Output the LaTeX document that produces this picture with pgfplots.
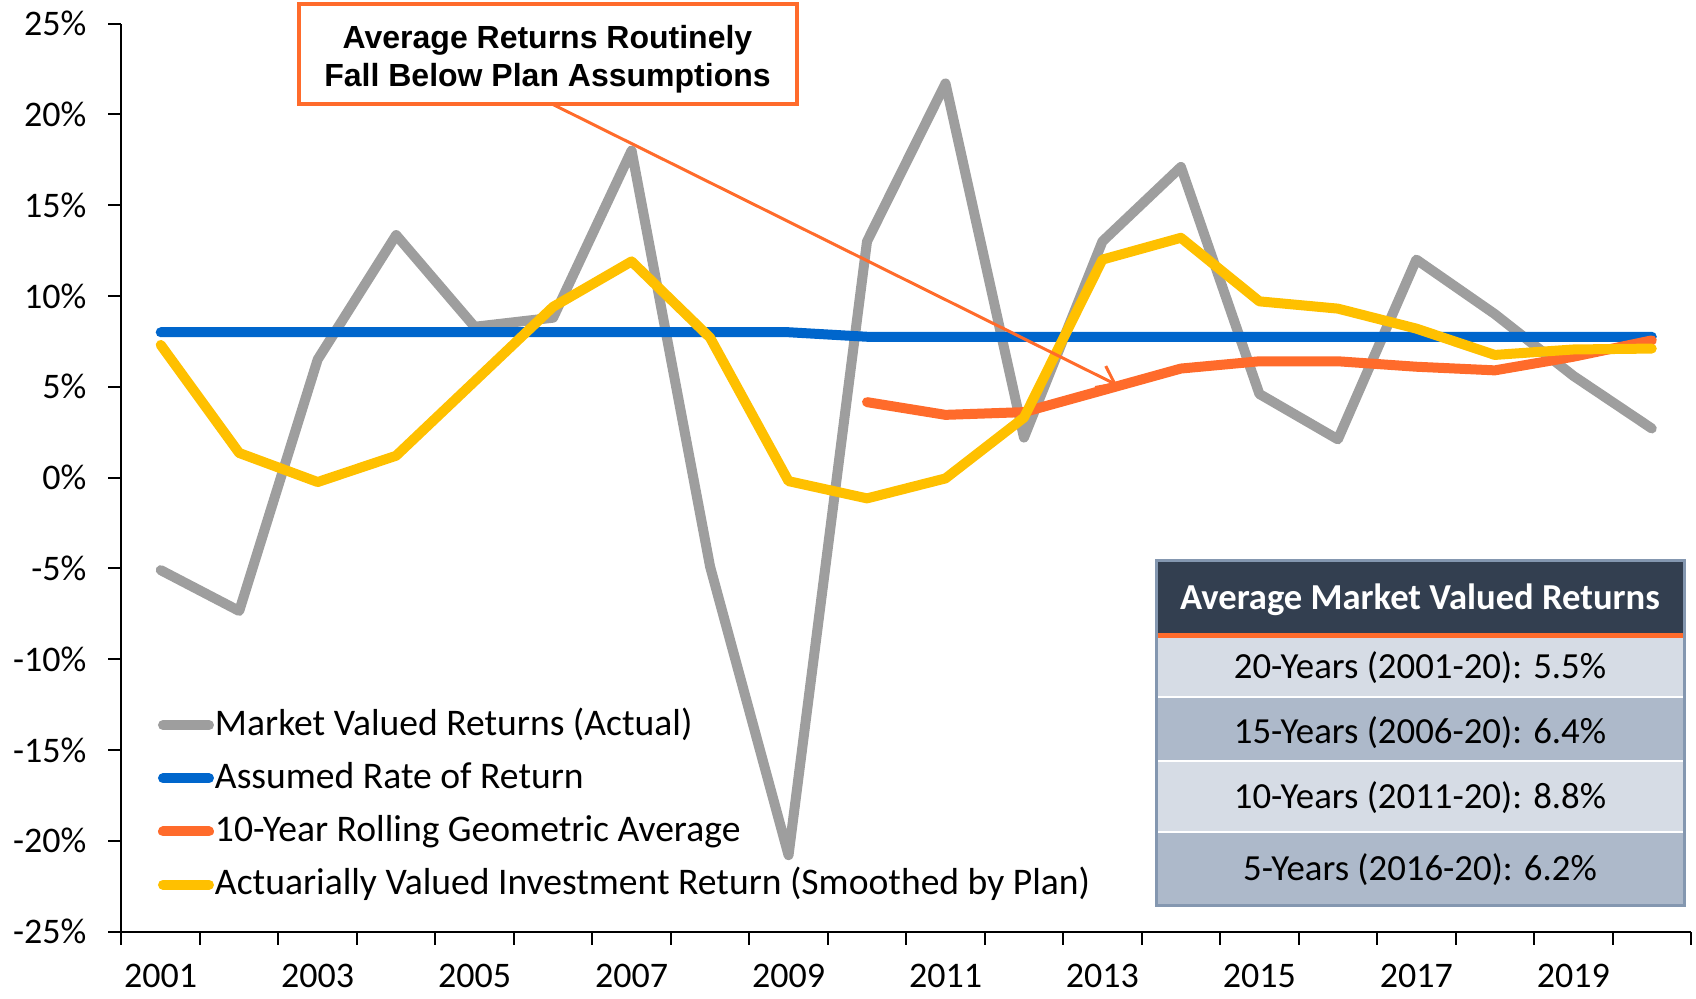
\documentclass[border=0pt]{standalone}
\usepackage{fontspec}
\setmainfont{Carlito}
\newfontfamily\arialfont{Liberation Sans}
\usepackage{pgfplots}
\pgfplotsset{compat=1.18}
\usetikzlibrary{arrows.meta}
\definecolor{mgray}{HTML}{9E9E9E}
\definecolor{mblue}{HTML}{0066CC}
\definecolor{morange}{HTML}{FF6B2B}
\definecolor{myellow}{HTML}{FFC000}
\definecolor{hdr}{HTML}{333F50}
\definecolor{rowl}{HTML}{D6DCE5}
\definecolor{rowd}{HTML}{ADB9CA}
\definecolor{tborder}{HTML}{8497B0}
\begin{document}
\begin{tikzpicture}
\useasboundingbox (-60.75pt,-33.25pt) rectangle (787.25pt,465.75pt);
\begin{axis}[at={(0pt,0pt)}, anchor=south west, scale only axis,
  width=784.75pt, height=454pt,
  xmin=0.5, xmax=20.5, ymin=-25, ymax=25,
  axis x line=bottom, axis y line=left,
  axis line style={-, line width=1pt, black},
  xtick={0.5,1.5,...,20.5}, xticklabels={},
  extra x ticks={1,3,...,19},
  extra x tick labels={2001,2003,2005,2007,2009,2011,2013,2015,2017,2019},
  extra x tick style={major tick length=0pt},
  xticklabel style={yshift=-12.6pt},
  ytick={-25,-20,...,25},
  yticklabels={-25\%,-20\%,-15\%,-10\%,-5\%,0\%,5\%,10\%,15\%,20\%,25\%},
  yticklabel style={xshift=-7.5pt},
  tick style={black, line width=1pt},
  major tick length=6.5pt, tick align=outside,
  tick label style={font=\fontsize{18}{20}\selectfont},
  /pgf/number format/assume math mode=true,
  clip=false,
  legend style={at={(0.02326,0.2472)}, anchor=north west, draw=none, fill=none,
    inner sep=0pt, outer sep=0pt, row sep=8.6pt, column sep=0.5pt,
    font=\fontsize{18.8}{20}\selectfont,
    nodes={inner sep=0pt, text height=14pt, text depth=4pt}},
  legend cell align=left,
  legend image code/.code={\draw[#1, line cap=round] (0pt,0pt) -- (23pt,0pt);},
]
\addplot[mgray, line width=5pt, line join=round, line cap=round] coordinates {
 (1,-5.1) (2,-7.35) (3,6.5) (4,13.35) (5,8.3) (6,8.8) (7,18.0) (8,-4.9) (9,-20.8) (10,13.0)
 (11,21.7) (12,2.2) (13,13.0) (14,17.1) (15,4.6) (16,2.1) (17,12.0) (18,9.0) (19,5.6) (20,2.7)};
\addlegendentry{Market Valued Returns (Actual)}
\addplot[mblue, line width=5pt, line join=round, line cap=round] coordinates {
 (1,8.0) (2,8.0) (3,8.0) (4,8.0) (5,8.0) (6,8.0) (7,8.0) (8,8.0) (9,8.0) (10,7.75)
 (11,7.75) (12,7.75) (13,7.75) (14,7.75) (15,7.75) (16,7.75) (17,7.75) (18,7.75) (19,7.75) (20,7.75)};
\addlegendentry{Assumed Rate of Return}
\addplot[morange, line width=5pt, line join=round, line cap=round] coordinates {
 (10,4.15) (11,3.45) (12,3.6) (13,4.8) (14,6.0) (15,6.4) (16,6.4) (17,6.1) (18,5.9) (19,6.65) (20,7.55)};
\addlegendentry{10-Year Rolling Geometric Average}
\addplot[myellow, line width=5pt, line join=round, line cap=round] coordinates {
 (1,7.3) (2,1.35) (3,-0.25) (4,1.2) (5,5.3) (6,9.4) (7,11.9) (8,7.7) (9,-0.2) (10,-1.15)
 (11,-0.05) (12,3.3) (13,12.0) (14,13.2) (15,9.7) (16,9.3) (17,8.2) (18,6.75) (19,7.05) (20,7.1)};
\addlegendentry{Actuarially Valued Investment Return (Smoothed by Plan)}
\end{axis}
% annotation arrow and box
\draw[morange, line width=1.5pt, -{Straight Barb[length=8pt,width=12pt]}] (215.25pt,413.75pt) -- (497.75pt,273.25pt);
\draw[morange, line width=2pt, fill=white] (88.5pt,413.75pt) rectangle (337.75pt,463.95pt);
\node[anchor=base, font=\arialfont\bfseries\fontsize{16}{18}\selectfont] at (213pt,441.25pt) {Average Returns Routinely};
\node[anchor=base, font=\arialfont\bfseries\fontsize{16}{18}\selectfont] at (213pt,422.25pt) {Fall Below Plan Assumptions};
% table
\fill[hdr] (517.25pt,149.25pt) rectangle (781.25pt,185.75pt);
\fill[morange] (517.25pt,146.75pt) rectangle (781.25pt,149.25pt);
\fill[rowl] (517.25pt,118pt) rectangle (781.25pt,146.75pt);
\fill[rowd] (517.25pt,86pt) rectangle (781.25pt,116.75pt);
\fill[rowl] (517.25pt,50.5pt) rectangle (781.25pt,84.75pt);
\fill[rowd] (517.25pt,13.25pt) rectangle (781.25pt,49.25pt);
\draw[tborder, line width=1.5pt] (517.25pt,13.25pt) rectangle (781.25pt,185.75pt);
\node[anchor=base, text=white, font=\bfseries\fontsize{18.3}{20}\selectfont] at (649.25pt,161.25pt) {Average Market Valued Returns};
\node[anchor=base, font=\fontsize{18.4}{20}\selectfont] at (649.25pt,126.75pt) {20-Years (2001-20): 5.5\%};
\node[anchor=base, font=\fontsize{18.4}{20}\selectfont] at (649.25pt,94.25pt) {15-Years (2006-20): 6.4\%};
\node[anchor=base, font=\fontsize{18.4}{20}\selectfont] at (649.25pt,61.75pt) {10-Years (2011-20): 8.8\%};
\node[anchor=base, font=\fontsize{18.4}{20}\selectfont] at (649.25pt,25.75pt) {5-Years (2016-20): 6.2\%};
\end{tikzpicture}
\end{document}
